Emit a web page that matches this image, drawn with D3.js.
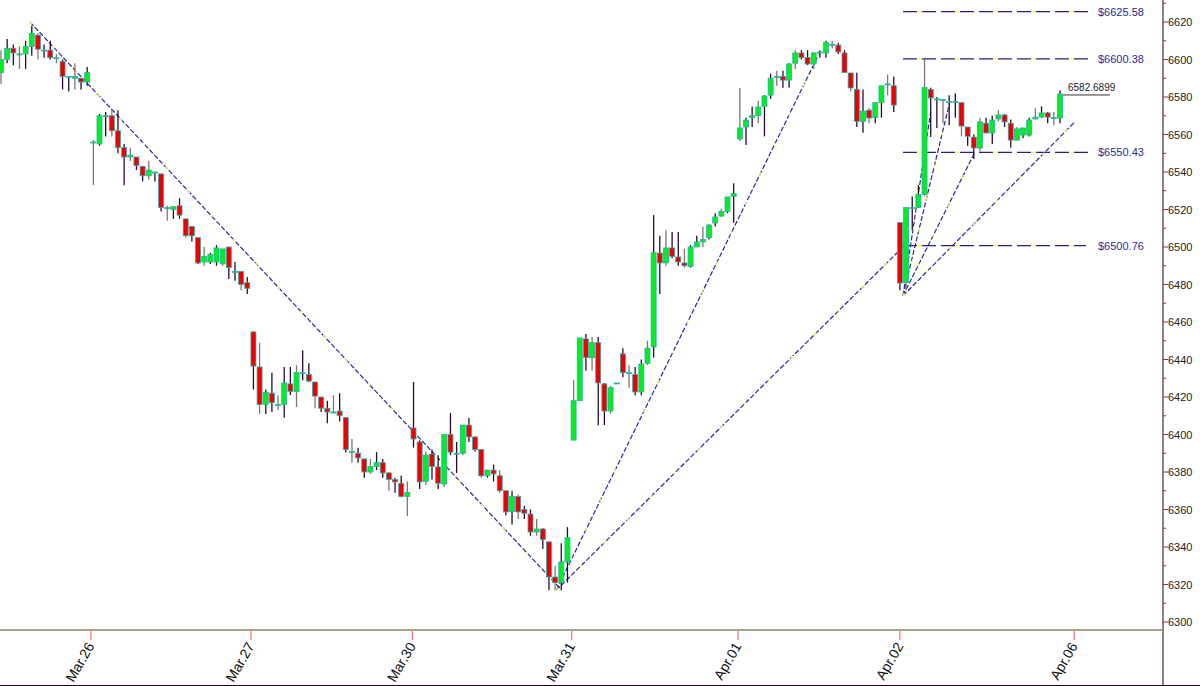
<!DOCTYPE html>
<html><head><meta charset="utf-8">
<script src="https://cdnjs.cloudflare.com/ajax/libs/d3/7.8.5/d3.min.js"></script>
<style>body{margin:0;background:#fff}svg{display:block}</style></head>
<body><svg id="chart" width="1200" height="686"></svg>
<script>
// OHLC bars (index = bar order)
const opens = [6593,6600,6606,6603,6603,6607,6613,6605,6605,6601,6599,6591,6590,6590,6588,
  6556,6555,6570,6570,6562,6553,6548,6548,6543,6538,6540,6539,6521,6520,6522,6515,6511,6505,6492,6492,6492,6491,6500,6487,6487,6481,
  6454.7,6436,6416,6422,6416,6416,6427,6423,6433,6432,6428,6420,6414,6412,6412.5,6409,6391,6390,6387,6380,6383,6385,6379.5,6376,6374,6367,
  6403.5,6396,6375,6389.6,6382.7,6373.6,6400,6390,6390,6405,6398.7,6392,6378,6381,6378,6370,6359,6367,6360,6357.6,6348,6349.6,6342.7,6324,6321,6332,
  6397,6418,6451,6441,6449,6427,6412.5,6427.5,6443,6433,6432,6422.7,6438,6446.7,6496.8,6491.5,6499.5,6494.7,6491.5,6489.6,6500,6502.7,6505,6512.8,6516.5,6519,6527,
  6557.6,6564,6569,6570,6575,6581,6590.6,6591,6589,6598,6603.5,6601,6597.6,6604,6603.5,6608,6607.7,6603.5,6592.8,6584,6567,6573,6569,6577,6587,6586,
  6513,6481,6521,6521,6528,6584,6579,6578.7,6577.6,6577.6,6577,6564,6558.6,6552.8,6566,6560.8,6568.3,6570.4,6566,6557,6559.7,6559.7,6568.3,6569.3,6571.5,6569,6568.8];
const highs = [6605,6611,6608,6607,6610,6618,6614,6608,6610,6603,6600,6591,6598,6590,6596,
  6557,6571,6572,6573,6573,6555,6553,6548,6543,6546,6540,6539,6522,6521.5,6526,6515,6511,6505,6500,6497,6501,6499,6500,6492,6487,6484,
  6455,6449,6424,6433,6421,6436,6436,6437,6445,6438,6428,6420,6418,6421,6422,6409,6397.6,6393,6387,6387,6390.6,6387,6380,6377,6378,6375,
  6428,6397,6391,6392,6389,6400,6411.5,6396,6405,6408.8,6399,6392,6381,6384,6381,6370,6370,6368,6362,6360,6355,6350,6343,6330,6342,6350.6,
  6429,6451.5,6453.6,6452,6452,6427.5,6426,6427.5,6446,6437,6436,6440,6450,6517,6506,6509,6508,6508,6499,6501,6506,6511,6512,6518,6520.5,6523,6534,
  6584.8,6569,6575,6578,6581,6592.5,6594,6594,6598,6605,6605,6605,6604,6605,6610,6610,6609,6605,6593,6593,6584,6574,6574,6577,6592,6591,
  6513,6521,6527,6533,6601,6585,6580,6579,6581,6582,6577,6564,6560,6569,6569,6570,6573,6571,6568,6564,6563.5,6569,6574,6575,6572,6572,6583.5];
const lows = [6587,6598,6597,6595,6595,6602,6600,6601,6600,6598,6584,6583,6584,6584,6586,
  6533,6554,6559,6559,6550,6533,6546,6541,6535,6536,6535,6519,6514,6515,6515,6505,6503,6491,6490,6491,6490,6490,6483,6482,6477,6475,
  6424,6411,6411,6412,6413,6409,6421,6414.7,6429,6428,6414,6412,6406,6412,6407,6390.5,6385,6385,6377,6379,6381,6377,6370,6369,6366.6,6356.5,
  6393,6371,6373,6376,6371,6372,6389,6379.5,6389,6396,6391,6377,6377,6375,6369,6357,6352,6355,6355,6346,6346,6339,6317,6317,6317,6321,
  6397,6418,6434,6434,6405,6405,6411,6427.5,6430.6,6425,6421,6421,6437,6441,6475,6490,6494,6490,6489,6489,6500,6500,6504,6511,6516,6518,6513,
  6556.6,6554.4,6564,6566,6559,6579,6586,6585,6585,6595,6600,6597,6595,6601,6601,6606,6603,6593,6583,6564,6561,6566,6566,6569,6581,6572,
  6477,6477,6509,6521,6527,6558.7,6563.5,6566,6565,6569,6559,6554,6547,6551,6561,6555,6567,6564,6553,6557,6558,6559,6568,6569,6566,6565,6566];
const closes = [6600,6606,6603.5,6603,6607,6614,6605.5,6605,6601,6601,6591,6591,6591,6588,6593,
  6556,6570,6570,6562,6553,6548,6549,6543.5,6538,6541,6540,6521,6521,6521.5,6517,6506,6506,6491.5,6495,6496,6499.5,6499,6489,6487,6480,6478,
  6436.5,6416,6422.5,6417,6416,6427.5,6423,6433,6433,6428.5,6420.5,6414,6412,6412,6410,6392,6391,6387.5,6380,6383,6385,6379.5,6376,6374.7,6367,6369,
  6397.6,6374.7,6389,6383,6374,6400,6390.6,6390,6405,6398.7,6392,6378,6381,6379,6370,6358.7,6367,6358.7,6358,6348,6349.6,6344,6324,6321,6332,6345,
  6418,6451.5,6441,6449,6427.5,6412.5,6425,6427.5,6433,6433,6422.7,6437.6,6446,6497,6491.5,6499.5,6495,6492,6490,6500,6502.7,6504,6511.7,6516,6519,6526.7,6528.5,
  6563.5,6567.7,6570,6574.7,6580.5,6590,6591,6589,6597.6,6603.5,6601,6597.6,6603.5,6604,6609,6608,6604,6593,6584.8,6567,6572.5,6568.8,6577,6586,6587,6575.7,
  6480.8,6521,6521,6528,6585,6579.5,6579,6578.7,6577.6,6577.6,6564.5,6559,6552.8,6566.7,6560.8,6567.7,6570.4,6566.7,6557,6563,6563.5,6567.7,6569.3,6571.5,6569.3,6569,6581.6];

const dayLabels = ['Mar.26','Mar.27','Mar.30','Mar.31','Apr.01','Apr.02','Apr.06'];
const dayPos = [14.6, 40.6, 66.8, 92.7, 119.7, 146, 174.3];

const levelValues = [6625.58, 6600.38, 6550.43, 6500.76];
const levelLabels = ['$6625.58', '$6600.38', '$6550.43', '$6500.76'];
const lastPrice = 6582.6899;

// trend lines as [index, price] pairs
const trendLines = [
  [[4.7, 6620], [90.8, 6318]],
  [[90.2, 6317], [133, 6604]],
  [[90.2, 6317], [146.5, 6500]],
  [[146.5, 6474], [154.1, 6577.3]],
  [[146.5, 6474], [151, 6572]],
  [[146.5, 6474], [158.2, 6550.7]],
  [[146.5, 6474], [174.4, 6566.7]]
];

const svg = d3.select('#chart');
const x = d3.scaleLinear().domain([0, 172]).range([1, 1060]);
const y = d3.scaleLinear().domain([6300, 6620]).range([622, 22]);
const bars = opens.map((o, i) => ({ i, o, h: highs[i], l: lows[i], c: closes[i] }));

// horizontal levels
const lv = svg.append('g');
levelValues.forEach((v, k) => {
  const x1 = 903, x2 = k === 3 ? 1086 : 1092;
  lv.append('line').attr('x1', x1).attr('x2', x2).attr('y1', y(v)).attr('y2', y(v))
    .attr('stroke', '#22228a').attr('stroke-width', 1.2).attr('stroke-dasharray', '14,5');
  lv.append('line').attr('x1', x1).attr('x2', x2).attr('y1', y(v)).attr('y2', y(v))
    .attr('stroke', '#ffff44').attr('stroke-width', 1.2).attr('stroke-dasharray', '4,34').attr('stroke-dashoffset', -15);
  lv.append('text').attr('x', 1098).attr('y', y(v) + 4).text(levelLabels[k])
    .attr('font-family', 'Arial, Liberation Sans').attr('font-size', 11).attr('fill', '#2a2a9a');
});

// trend lines
const tl = svg.append('g');
trendLines.forEach(([a, b]) => {
  tl.append('line').attr('x1', x(a[0])).attr('y1', y(a[1])).attr('x2', x(b[0])).attr('y2', y(b[1]))
    .attr('stroke', '#2828a0').attr('stroke-width', 1.2).attr('stroke-dasharray', '5,2');
  tl.append('line').attr('x1', x(a[0])).attr('y1', y(a[1])).attr('x2', x(b[0])).attr('y2', y(b[1]))
    .attr('stroke', '#ffff55').attr('stroke-width', 1.2).attr('stroke-dasharray', '3,30');
});

// candles
const cg = svg.append('g');
cg.selectAll('line.wick').data(bars).enter().append('line')
  .attr('x1', d => x(d.i)).attr('x2', d => x(d.i))
  .attr('y1', d => y(d.h)).attr('y2', d => y(d.l))
  .attr('stroke', (d, i) => i % 3 === 0 ? '#85737a' : '#2a0a30').attr('stroke-width', 1.3);
cg.selectAll('rect').data(bars).enter().append('rect')
  .attr('x', d => x(d.i) - 2.5).attr('width', 5)
  .attr('y', d => y(Math.max(d.o, d.c)))
  .attr('height', d => Math.max(1, Math.abs(y(d.o) - y(d.c))))
  .attr('fill', d => d.c >= d.o ? '#00ee22' : '#ee0000')
  .attr('stroke', '#33aaaa').attr('stroke-width', 0.8);

// last price marker
svg.append('line').attr('x1', 1063).attr('x2', 1110).attr('y1', y(lastPrice) + 3).attr('y2', y(lastPrice) + 3)
  .attr('stroke', '#333');
svg.append('text').attr('x', 1068).attr('y', y(lastPrice) - 1).text(lastPrice.toFixed(4))
  .attr('font-family', 'Arial, Liberation Sans').attr('font-size', 10).attr('fill', '#222');

// right axis
const ya = svg.append('g').attr('transform', 'translate(1163,0)');
ya.append('line').attr('y1', 0).attr('y2', 686).attr('stroke', '#4a2a2a').attr('stroke-width', 1.2);
const ticks = d3.range(6300, 6631, 10);
ya.selectAll('line.t').data(ticks).enter().append('line')
  .attr('x1', 0).attr('x2', d => d % 20 === 0 ? 5 : 3).attr('y1', d => y(d)).attr('y2', d => y(d))
  .attr('stroke', '#883344');
ya.selectAll('text').data(ticks.filter(d => d % 20 === 0)).enter().append('text')
  .attr('x', 5).attr('y', d => y(d) + 4).text(d => d)
  .attr('font-family', 'Arial, Liberation Sans').attr('font-size', 11).attr('fill', '#222');

// bottom axis
svg.append('line').attr('x1', 0).attr('x2', 1163).attr('y1', 630).attr('y2', 630).attr('stroke', '#888866').attr('stroke-width', 1.3);
svg.append('line').attr('x1', 0).attr('x2', 1200).attr('y1', 685.5).attr('y2', 685.5).attr('stroke', '#330022');
const xa = svg.append('g');
dayPos.forEach((p, k) => {
  xa.append('line').attr('x1', x(p)).attr('x2', x(p)).attr('y1', 631).attr('y2', 640).attr('stroke', '#ee5555');
  xa.append('text').attr('transform', `translate(${x(p) + 4},646) rotate(-60)`)
    .attr('text-anchor', 'end').text(dayLabels[k])
    .attr('font-family', 'Arial, Liberation Sans').attr('font-size', 14).attr('fill', '#111');
});
</script></body></html>
